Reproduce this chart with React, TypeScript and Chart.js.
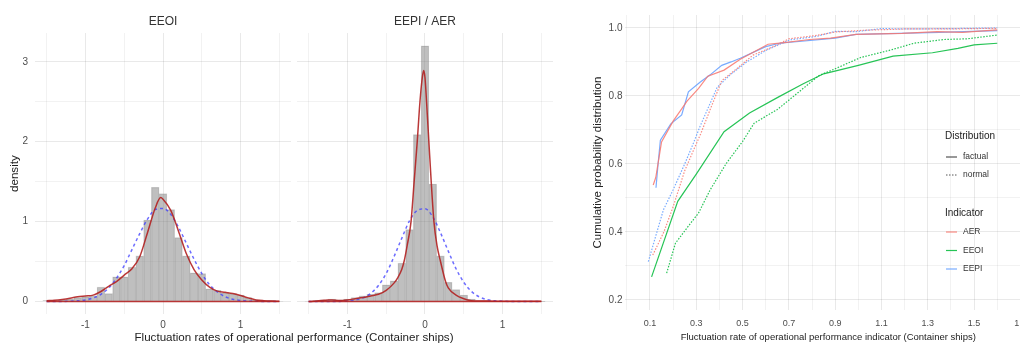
import React, { useEffect, useRef } from 'react';
import { Chart, registerables } from 'chart.js';

Chart.register(...registerables);

const FONT = 'Liberation Sans, Arial, sans-serif';

// ---------- Left panel: histograms + densities ----------
const facetTitles = ['EEOI', 'EEPI / AER'];
const binCenters = [-1.5, -1.4, -1.3, -1.2, -1.1, -1.0, -0.9, -0.8, -0.7, -0.6, -0.5, -0.4, -0.3, -0.2, -0.1, 0.0, 0.1, 0.2, 0.3, 0.4, 0.5, 0.6, 0.7, 0.8, 0.9, 1.0, 1.1, 1.2, 1.3, 1.4, 1.5];
const eeoiHist = [0.01, 0.01, 0.02, 0.03, 0.05, 0.06, 0.07, 0.18, 0.1, 0.31, 0.31, 0.43, 0.57, 1.02, 1.43, 1.35, 1.15, 0.8, 0.57, 0.36, 0.35, 0.16, 0.14, 0.11, 0.1, 0.08, 0.05, 0.02, 0.01, 0.01, 0.005];
const eepiHist = [0.005, 0.01, 0.02, 0.03, 0.02, 0.03, 0.05, 0.07, 0.09, 0.11, 0.21, 0.26, 0.48, 0.9, 2.09, 3.2, 1.47, 0.57, 0.24, 0.15, 0.08, 0.03, 0.01, 0.01, 0.005, 0.005, 0.003, 0.003, 0.003, 0.002, 0.002];

const eeoiDensX = [-1.5, -1.4, -1.3, -1.2, -1.1, -1.0, -0.9, -0.8, -0.7, -0.6, -0.5, -0.4, -0.3, -0.2, -0.1, -0.03, 0.0, 0.1, 0.2, 0.3, 0.4, 0.5, 0.6, 0.7, 0.8, 0.9, 1.0, 1.1, 1.2, 1.3, 1.4, 1.5];
const eeoiDensY = [0.01, 0.015, 0.025, 0.04, 0.06, 0.07, 0.08, 0.125, 0.19, 0.25, 0.33, 0.41, 0.56, 0.86, 1.17, 1.3, 1.28, 1.14, 0.88, 0.6, 0.4, 0.27, 0.18, 0.13, 0.115, 0.1, 0.075, 0.045, 0.02, 0.01, 0.005, 0.003];
const eeoiNormY = [0.0, 0.0005, 0.001, 0.003, 0.008, 0.02, 0.044, 0.09, 0.17, 0.29, 0.45, 0.65, 0.85, 1.03, 1.15, 1.165, 1.09, 0.93, 0.73, 0.53, 0.35, 0.21, 0.12, 0.06, 0.028, 0.012, 0.005, 0.002, 0.001, 0.0, 0.0];

const eepiDensX = [-1.5, -1.4, -1.3, -1.25, -1.2, -1.1, -1.0, -0.9, -0.8, -0.7, -0.6, -0.5, -0.4, -0.35, -0.3, -0.27, -0.23, -0.18, -0.14, -0.1, -0.065, -0.035, -0.017, 0.0, 0.02, 0.05, 0.08, 0.115, 0.155, 0.2, 0.265, 0.3, 0.4, 0.5, 0.6, 0.7, 0.8, 1.0, 1.5];
const eepiDensY = [0.0, 0.005, 0.015, 0.02, 0.02, 0.012, 0.02, 0.035, 0.05, 0.07, 0.09, 0.14, 0.23, 0.3, 0.4, 0.5, 0.7, 1.0, 1.5, 2.0, 2.5, 2.8, 2.89, 2.8, 2.5, 2.0, 1.5, 1.0, 0.7, 0.5, 0.25, 0.17, 0.08, 0.035, 0.01, 0.005, 0.005, 0.003, 0.002];
const eepiNormY = [0.0, 0.0, 0.0, 0.0005, 0.001, 0.007, 0.018, 0.045, 0.1, 0.2, 0.35, 0.56, 0.79, 1.01, 1.14, 1.16, 1.06, 0.86, 0.63, 0.41, 0.24, 0.125, 0.058, 0.024, 0.009, 0.003, 0.001, 0.0, 0.0, 0.0, 0.0];

const leftXTitle = 'Fluctuation rates of operational performance (Container ships)';
const leftYTitle = 'density';

// ---------- Right panel: cumulative distributions ----------
const indicators = ['AER', 'EEOI', 'EEPI'];
const indicatorColors = ['rgba(248,118,109,0.85)', 'rgba(0,186,56,0.85)', 'rgba(97,156,255,0.85)'];
const distributions = ['factual', 'normal'];

const aerFactualX = [0.114, 0.125, 0.15, 0.2, 0.24, 0.26, 0.31, 0.35, 0.42, 0.49, 0.55, 0.61, 0.68, 0.79, 0.88, 0.99, 1.19, 1.34, 1.45, 1.6];
const aerFactualY = [0.538, 0.56, 0.665, 0.726, 0.765, 0.785, 0.822, 0.858, 0.876, 0.908, 0.93, 0.952, 0.957, 0.966, 0.97, 0.981, 0.984, 0.989, 0.987, 0.994];
const eeoiFactualX = [0.107, 0.22, 0.3, 0.42, 0.53, 0.65, 0.76, 0.85, 1.0, 1.15, 1.32, 1.43, 1.5, 1.6];
const eeoiFactualY = [0.268, 0.49, 0.57, 0.695, 0.75, 0.795, 0.835, 0.865, 0.89, 0.917, 0.927, 0.94, 0.95, 0.955];
const eepiFactualX = [0.126, 0.135, 0.145, 0.19, 0.237, 0.266, 0.316, 0.36, 0.41, 0.45, 0.49, 0.6, 0.66, 0.9, 0.99, 1.35, 1.6];
const eepiFactualY = [0.53, 0.6, 0.67, 0.718, 0.744, 0.812, 0.84, 0.862, 0.89, 0.9, 0.911, 0.945, 0.955, 0.97, 0.981, 0.987, 0.992];

const aerNormalX = [0.112, 0.16, 0.2, 0.25, 0.294, 0.32, 0.36, 0.41, 0.475, 0.545, 0.64, 0.7, 0.82, 0.9, 1.02, 1.2, 1.4, 1.6];
const aerNormalY = [0.332, 0.4, 0.474, 0.58, 0.65, 0.69, 0.76, 0.845, 0.88, 0.92, 0.947, 0.968, 0.978, 0.988, 0.993, 0.997, 0.997, 0.999];
const eeoiNormalX = [0.172, 0.21, 0.26, 0.31, 0.36, 0.43, 0.5, 0.55, 0.65, 0.74, 0.83, 0.9, 1.01, 1.14, 1.24, 1.37, 1.47, 1.6];
const eeoiNormalY = [0.279, 0.367, 0.412, 0.456, 0.524, 0.602, 0.666, 0.72, 0.76, 0.81, 0.86, 0.88, 0.913, 0.935, 0.955, 0.966, 0.968, 0.979];
const eepiNormalX = [0.093, 0.13, 0.158, 0.2, 0.25, 0.287, 0.316, 0.39, 0.446, 0.518, 0.604, 0.705, 0.82, 0.9, 0.99, 1.1, 1.22, 1.4, 1.6];
const eepiNormalY = [0.313, 0.4, 0.465, 0.524, 0.6, 0.66, 0.71, 0.825, 0.862, 0.9, 0.935, 0.965, 0.975, 0.99, 0.989, 0.998, 0.997, 0.998, 1.0];

const rightXTitle = 'Fluctuation rate of operational performance indicator (Container ships)';
const rightYTitle = 'Cumulative probability distribution';

// ---------- helpers ----------
const zip = (xs: number[], ys: number[]) => xs.map((x, i) => ({ x, y: ys[i] }));
const baseline = (xs: number[]) => [{ x: xs[0], y: 0 }, { x: xs[xs.length - 1], y: 0 }];
const isInt = (v: number) => Math.abs(v - Math.round(v)) < 1e-6;
const MAJOR = 'rgba(0,0,0,0.085)';
const MINOR = 'rgba(0,0,0,0.05)';
const TICK_COLOR = '#4D4D4D';
const RED = 'rgba(178,34,34,0.9)';
const BLUE = 'rgba(60,60,255,0.75)';

const histDataset = (xAxisID: string, ys: number[]) => ({
  type: 'bar' as const,
  xAxisID,
  yAxisID: 'y',
  data: zip(binCenters, ys),
  backgroundColor: 'rgba(128,128,128,0.5)',
  borderColor: 'rgba(100,100,100,0.25)',
  borderWidth: 0.6,
  barPercentage: 1,
  categoryPercentage: 1,
  grouped: false,
  order: 3,
});

const lineDataset = (xAxisID: string, data: any[], color: string, dash: number[] = [], width = 1.5) => ({
  type: 'line' as const,
  xAxisID,
  yAxisID: 'y',
  data,
  borderColor: color,
  borderWidth: width,
  borderDash: dash,
  pointRadius: 0,
  fill: false,
  cubicInterpolationMode: 'monotone' as const,
  order: 1,
});

const facetAxis = (weight: number) => ({
  type: 'linear' as const,
  position: 'bottom' as const,
  stack: 'facets',
  stackWeight: weight,
  min: -1.65,
  max: 1.65,
  offset: false,
  ticks: {
    stepSize: 0.5,
    includeBounds: false,
    autoSkip: false,
    maxRotation: 0,
    padding: 5,
    color: TICK_COLOR,
    font: { family: FONT, size: 10 },
    callback: (v: any) => (isInt(Number(v)) ? String(Math.round(Number(v)) || 0) : ''),
  },
  grid: {
    offset: false,
    drawTicks: false,
    color: (ctx: any) => (ctx.tick && isInt(ctx.tick.value) ? MAJOR : MINOR),
  },
  border: { display: false },
  afterFit: (s: any) => { s.height = 16.8; },
});

const facetPlugin = {
  id: 'facetPlugin',
  beforeDatasetsDraw(chart: any) {
    const g = chart.scales.xgap;
    const { top, bottom } = chart.chartArea;
    const ctx = chart.ctx;
    ctx.save();
    ctx.fillStyle = '#ffffff';
    ctx.fillRect(g.left, top - 1, g.right - g.left, bottom - top + 2);
    ctx.restore();
  },
  afterDraw(chart: any) {
    const ctx = chart.ctx;
    ctx.save();
    ctx.font = `12px ${FONT}`;
    ctx.fillStyle = '#333333';
    ctx.textAlign = 'center';
    ctx.textBaseline = 'middle';
    ['x1', 'x2'].forEach((id, i) => {
      const s = chart.scales[id];
      ctx.fillText(facetTitles[i], (s.left + s.right) / 2, 22);
    });
    ctx.restore();
  },
};

const legendPlugin = {
  id: 'ggLegend',
  afterDraw(chart: any) {
    const ctx = chart.ctx;
    const x0 = 357;
    const keyL = 358;
    const keyR = 369;
    const textX = 375;
    ctx.save();
    ctx.textBaseline = 'middle';
    ctx.textAlign = 'left';
    ctx.fillStyle = '#222222';
    ctx.font = `10px ${FONT}`;
    ctx.fillText('Distribution', x0, 136);
    ctx.fillText('Indicator', x0, 213);
    ctx.font = `8.5px ${FONT}`;
    const distY = [157, 175];
    distributions.forEach((d, i) => {
      ctx.strokeStyle = i === 0 ? '#333333' : '#555555';
      ctx.lineWidth = 1;
      ctx.setLineDash(i === 0 ? [] : [1.5, 1.5]);
      ctx.beginPath();
      ctx.moveTo(keyL, distY[i]);
      ctx.lineTo(keyR, distY[i]);
      ctx.stroke();
      ctx.fillStyle = '#333333';
      ctx.fillText(d, textX, distY[i]);
    });
    ctx.setLineDash([]);
    const indY = [232, 250.5, 269];
    indicators.forEach((name, i) => {
      ctx.strokeStyle = indicatorColors[i];
      ctx.lineWidth = 1.2;
      ctx.beginPath();
      ctx.moveTo(keyL, indY[i]);
      ctx.lineTo(keyR, indY[i]);
      ctx.stroke();
      ctx.fillStyle = '#333333';
      ctx.fillText(name, textX, indY[i]);
    });
    ctx.restore();
  },
};

export default function App() {
  const leftRef = useRef<HTMLCanvasElement>(null);
  const rightRef = useRef<HTMLCanvasElement>(null);

  useEffect(() => {
    const left = new Chart(leftRef.current as HTMLCanvasElement, {
      type: 'bar',
      data: {
        datasets: [
          histDataset('x1', eeoiHist),
          lineDataset('x1', baseline(eeoiDensX), RED, [], 1.4),
          lineDataset('x1', zip(eeoiDensX, eeoiDensY), RED),
          lineDataset('x1', zip(binCenters, eeoiNormY), BLUE, [3, 3]),
          histDataset('x2', eepiHist),
          lineDataset('x2', baseline(eepiDensX), RED, [], 1.4),
          lineDataset('x2', zip(eepiDensX, eepiDensY), RED),
          lineDataset('x2', zip(binCenters, eepiNormY), BLUE, [3, 3]),
        ] as any,
      },
      options: {
        animation: false,
        responsive: false,
        maintainAspectRatio: false,
        layout: { padding: { top: 33, right: 7, left: 0, bottom: 0 } },
        plugins: {
          legend: { display: false },
          tooltip: { enabled: false },
          title: {
            display: true,
            position: 'bottom',
            fullSize: false,
            text: leftXTitle,
            color: '#222222',
            font: { family: FONT, size: 11.6, weight: 'normal' },
            padding: { top: 0, bottom: 0 },
          },
        },
        scales: {
          x1: facetAxis(1),
          xgap: {
            type: 'linear',
            position: 'bottom',
            stack: 'facets',
            stackWeight: 0.0234,
            min: 0,
            max: 1,
            offset: false,
            ticks: { display: false },
            grid: { display: false, offset: false },
            border: { display: false },
            afterFit: (s: any) => { s.height = 16.8; },
          },
          x2: facetAxis(1),
          y: {
            type: 'linear',
            position: 'left',
            min: -0.16,
            max: 3.36,
            ticks: {
              stepSize: 0.5,
              includeBounds: false,
              padding: 7,
              color: TICK_COLOR,
              font: { family: FONT, size: 10 },
              callback: (v: any) => (isInt(Number(v)) ? String(Math.round(Number(v))) : ''),
            },
            grid: {
              drawTicks: false,
              color: (ctx: any) => (ctx.tick && isInt(ctx.tick.value) ? MAJOR : MINOR),
            },
            border: { display: false },
            title: {
              display: true,
              text: leftYTitle,
              color: '#222222',
              font: { family: FONT, size: 11.6 },
              padding: { top: 8, bottom: 0 },
            },
            afterFit: (s: any) => { s.width = 35; },
          },
        } as any,
      },
      plugins: [facetPlugin],
    });

    const rightSeries = [
      { x: aerFactualX, y: aerFactualY, ind: 0, dist: 0 },
      { x: eeoiFactualX, y: eeoiFactualY, ind: 1, dist: 0 },
      { x: eepiFactualX, y: eepiFactualY, ind: 2, dist: 0 },
      { x: aerNormalX, y: aerNormalY, ind: 0, dist: 1 },
      { x: eeoiNormalX, y: eeoiNormalY, ind: 1, dist: 1 },
      { x: eepiNormalX, y: eepiNormalY, ind: 2, dist: 1 },
    ];

    const right = new Chart(rightRef.current as HTMLCanvasElement, {
      type: 'line',
      data: {
        datasets: rightSeries.map((s) => ({
          label: `${indicators[s.ind]} ${distributions[s.dist]}`,
          data: zip(s.x, s.y),
          borderColor: indicatorColors[s.ind],
          borderWidth: 1.2,
          borderDash: s.dist === 1 ? [1.5, 1.5] : [],
          pointRadius: 0,
          fill: false,
          tension: 0,
        })),
      },
      options: {
        animation: false,
        responsive: false,
        maintainAspectRatio: false,
        layout: { padding: { top: 15, right: 16, left: 0, bottom: 0 } },
        plugins: { legend: { display: false }, tooltip: { enabled: false } },
        scales: {
          x: {
            type: 'linear',
            min: -0.01,
            max: 1.75,
            ticks: {
              stepSize: 0.1,
              includeBounds: false,
              autoSkip: false,
              maxRotation: 0,
              padding: 8,
              color: TICK_COLOR,
              font: { family: FONT, size: 9 },
              callback: (v: any) => (Math.round(Number(v) * 10) % 2 === 1 ? Number(v).toFixed(1) : ''),
            },
            grid: {
              drawTicks: false,
              color: (ctx: any) => (ctx.tick && Math.round(ctx.tick.value * 10) % 2 === 1 ? MAJOR : MINOR),
            },
            border: { display: false },
            title: {
              display: true,
              text: rightXTitle,
              color: '#222222',
              font: { family: FONT, size: 9.5 },
              padding: { top: 0, bottom: 2.3 },
            },
            afterFit: (s: any) => { s.height = 34.8; },
          },
          y: {
            type: 'linear',
            min: 0.17,
            max: 1.038,
            ticks: {
              stepSize: 0.1,
              includeBounds: false,
              padding: 2,
              color: TICK_COLOR,
              font: { family: FONT, size: 10 },
              callback: (v: any) => (Math.round(Number(v) * 10) % 2 === 0 ? Number(v).toFixed(1) : ''),
            },
            grid: {
              drawTicks: false,
              color: (ctx: any) => (ctx.tick && Math.round(ctx.tick.value * 10) % 2 === 0 ? MAJOR : MINOR),
            },
            border: { display: false },
            title: {
              display: true,
              text: rightYTitle,
              color: '#222222',
              font: { family: FONT, size: 11.5 },
              padding: { top: 3, bottom: 0 },
            },
            afterFit: (s: any) => { s.width = 36.5; },
          },
        } as any,
      },
      plugins: [legendPlugin],
    });

    return () => {
      left.destroy();
      right.destroy();
    };
  }, []);

  return (
    <div style={{ position: 'absolute', left: 0, top: 0, width: 1020, height: 345, overflow: 'hidden', background: '#ffffff' }}>
      <canvas ref={leftRef} width={560} height={345} style={{ position: 'absolute', left: 0, top: 0, width: 560, height: 345 }} />
      <canvas ref={rightRef} width={460} height={345} style={{ position: 'absolute', left: 588, top: 0, width: 460, height: 345 }} />
    </div>
  );
}
